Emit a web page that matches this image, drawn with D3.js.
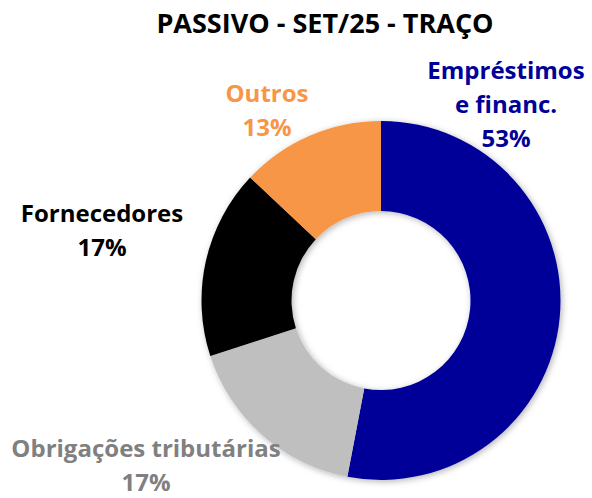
<!DOCTYPE html>
<html>
<head>
<meta charset="utf-8">
<script src="https://cdn.jsdelivr.net/npm/d3@7"></script>
<style>
  body { margin: 0; background: #fff; }
  text { font-family: "Open Sans", Lato, sans-serif; font-weight: bold; }
</style>
</head>
<body>
<script>
// data
let categories = ["Empréstimos e financ.", "Obrigações tributárias", "Fornecedores", "Outros"];
let values = [53, 17, 17, 13];
let sliceColors = ["#000099", "#BFBFBF", "#000000", "#F79646"];
let labelColors = ["#000099", "#808080", "#000000", "#F79646"];
let labelLines = [["Empréstimos", "e financ."], ["Obrigações tributárias"], ["Fornecedores"], ["Outros"]];
let labelPos = [[506, 79], [146, 457], [102, 222], [267, 102]];
let title = "PASSIVO - SET/25 - TRAÇO";

let W = 592, H = 498;
let cx = 381, cy = 300.5;
let outerR = 179.5, innerR = 89.5;

let svg = d3.select("body").append("svg")
  .attr("width", W)
  .attr("height", H);

let defs = svg.append("defs");
let f = defs.append("filter").attr("id", "shadow")
  .attr("x", "-20%").attr("y", "-20%").attr("width", "140%").attr("height", "140%");
f.append("feDropShadow")
  .attr("dx", 1.5).attr("dy", 1.5)
  .attr("stdDeviation", 3)
  .attr("flood-color", "#000")
  .attr("flood-opacity", 0.3);

svg.append("text")
  .attr("x", 325).attr("y", 33)
  .attr("text-anchor", "middle")
  .attr("font-size", "27px")
  .attr("fill", "#000")
  .text(title);

let pie = d3.pie().sort(null).value(d => d);
let arc = d3.arc().innerRadius(innerR).outerRadius(outerR);

let g = svg.append("g")
  .attr("transform", `translate(${cx},${cy})`)
  .attr("filter", "url(#shadow)");

g.selectAll("path")
  .data(pie(values))
  .join("path")
  .attr("d", arc)
  .attr("fill", (d, i) => sliceColors[i]);

let pct = d3.format(".0%");
let total = d3.sum(values);
let lineH = 34;

let labels = svg.selectAll("g.label")
  .data(categories)
  .join("g")
  .attr("class", "label");

labels.each(function (c, i) {
  let lines = labelLines[i].concat([pct(values[i] / total)]);
  d3.select(this).selectAll("text")
    .data(lines)
    .join("text")
    .attr("x", labelPos[i][0])
    .attr("y", (d, j) => labelPos[i][1] + j * lineH)
    .attr("text-anchor", "middle")
    .attr("font-size", "24px")
    .attr("fill", labelColors[i])
    .text(d => d);
});
</script>
</body>
</html>
